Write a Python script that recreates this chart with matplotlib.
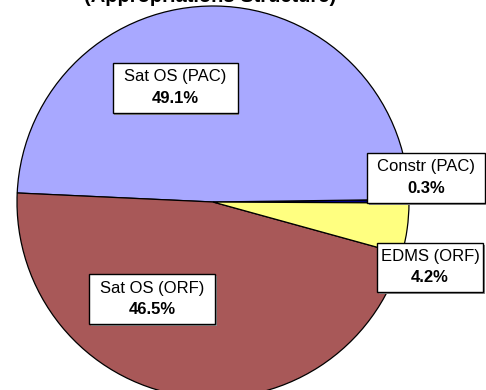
import matplotlib
matplotlib.use("Agg")
import matplotlib.pyplot as plt
from matplotlib.patches import Rectangle

plt.rcParams['font.family'] = ['Liberation Sans', 'DejaVu Sans']

# Budget shares by appropriation
categories = ["Constr (PAC)", "Sat OS (PAC)", "Sat OS (ORF)", "EDMS (ORF)"]
shares = [0.3, 49.1, 46.5, 4.2]
colors = ["#000080", "#A8A8FF", "#A85858", "#FFFF80"]
title = "(Appropriations Structure)"

W, H = 486, 390
fig = plt.figure(figsize=(W / 100, H / 100), dpi=100)
ax = fig.add_axes([0, 0, 1, 1])

cx, cy, r = 213, H - 202, 196
ax.pie(shares, colors=colors, startangle=-0.3, counterclock=True,
       center=(cx, cy), radius=r,
       wedgeprops=dict(edgecolor="black", linewidth=0.9))
ax.set_xlim(0, W)
ax.set_ylim(0, H)
ax.set_aspect('equal', adjustable='box')
ax.axis('off')

# label box centre and size in pixel space (x from left, y from top)
label_box = {
    "Constr (PAC)": (426, 178, 118, 50),
    "Sat OS (PAC)": (175, 88, 125, 50),
    "Sat OS (ORF)": (152, 299, 126, 50),
    "EDMS (ORF)": (430, 267.5, 106, 49),
}
for name, val in zip(categories, shares):
    px, py, bw, bh = label_box[name]
    x0, y0 = px - bw / 2, H - py - bh / 2
    # soft drop shadow, then the white box
    ax.add_patch(Rectangle((x0 + 1.5, y0 - 1.5), bw, bh, facecolor="#8a8a8a",
                           edgecolor="none", zorder=5))
    ax.add_patch(Rectangle((x0, y0), bw, bh, facecolor="white",
                           edgecolor="black", linewidth=1.0, zorder=6))
    ax.text(px, H - py + 11, name, ha="center", va="center",
            fontsize=12, color="black", zorder=7)
    ax.text(px, H - py - 10.5, f"{val:.1f}%", ha="center", va="center",
            fontsize=12, fontweight="bold", color="black", zorder=7)

ax.text(210, H - 2, title, ha="center", va="baseline", fontsize=14.5,
        fontweight="bold", clip_on=False)

fig.savefig("out.png", dpi=100)
